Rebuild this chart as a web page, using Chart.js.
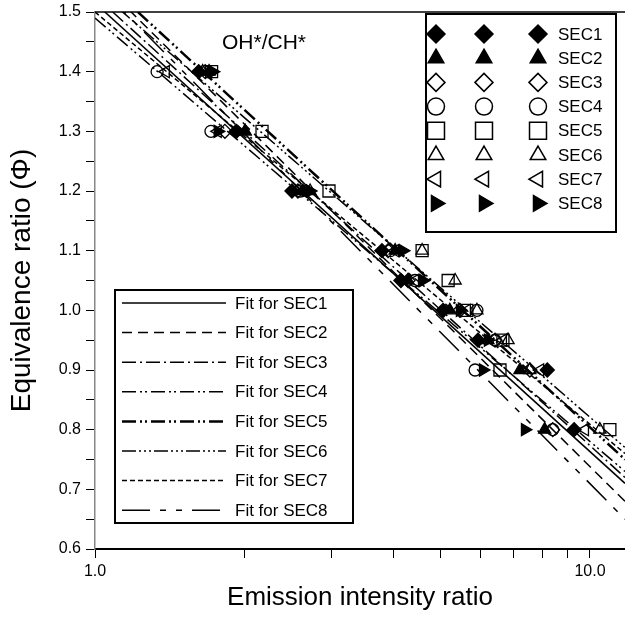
<!DOCTYPE html>
<html>
<head>
<meta charset="utf-8">
<script src="https://cdn.jsdelivr.net/npm/chart.js@4.4.0/dist/chart.umd.min.js"></script>
<style>
    body { margin: 0; background: #fff; }
    #wrap { width: 625px; height: 619px; }
</style>
</head>
<body>
<div id="wrap"><canvas id="chartOH" width="625" height="619"></canvas></div>
<script>
// equivalence ratio levels measured for every sector
const levels = [1.4, 1.3, 1.2, 1.1, 1.05, 1.0, 0.95, 0.9, 0.8];

// emission intensity ratio, one list per sector
const sec1 = [1.62, 1.93, 2.50, 3.80, 4.15, 5.05, 5.94, 8.20, 9.29];
const sec2 = [1.70, 2.01, 2.63, 4.04, 4.29, 5.21, 6.22, 7.22, 8.10];
const sec3 = [1.67, 1.83, 2.57, 3.91, 4.29, 5.46, 6.43, 7.56, 8.41];
const sec4 = [1.335, 1.715, 2.60, 3.95, 4.43, 5.91, 6.43, 5.86, 8.41];
const sec5 = [1.72, 2.175, 2.97, 4.58, 5.17, 5.64, 6.67, 6.58, 10.97];
const sec6 = [1.65, 2.01, 2.72, 4.58, 5.34, 5.91, 6.83, 7.56, 10.47];
const sec7 = [1.39, 1.77, 2.63, 4.04, 4.43, 5.64, 6.67, 7.93, 9.77];
const sec8 = [1.73, 1.77, 2.72, 4.19, 4.60, 5.46, 6.22, 6.08, 7.39];

const sectors = ['SEC1', 'SEC2', 'SEC3', 'SEC4', 'SEC5', 'SEC6', 'SEC7', 'SEC8'];
const sectorX = [sec1, sec2, sec3, sec4, sec5, sec6, sec7, sec8];

// fit lines: value at the left (x = 1.0) and at the right edge of the axis
const fitX = [1.0, 11.77];
const fitStartY = [1.515, 1.56, 1.527, 1.49, 1.566, 1.54, 1.50, 1.55];
const fitEndY = [0.71, 0.68, 0.72, 0.73, 0.75, 0.77, 0.76, 0.65];

const xTicks = [1, 2, 3, 4, 5, 6, 7, 8, 9, 10];
const xTickLabels = { 1: '1.0', 10: '10.0' };

const FONT = "'Liberation Sans', Arial, sans-serif";

// marker look per sector
const markers = [
    { style: 'rectRot', rot: 0, fill: true, r: 7 },
    { style: 'triangle', rot: 0, fill: true, r: 7 },
    { style: 'rectRot', rot: 0, fill: false, r: 7 },
    { style: 'circle', rot: 0, fill: false, r: 6 },
    { style: 'rect', rot: 0, fill: false, r: 8.5 },
    { style: 'triangle', rot: 0, fill: false, r: 7 },
    { style: 'triangle', rot: 270, fill: false, r: 7 },
    { style: 'triangle', rot: 90, fill: true, r: 7 }
];

const dashes = [
    [], [10, 6], [14, 4, 2, 4], [14, 4, 2, 3, 2, 4],
    [14, 4, 2, 3, 2, 4], [14, 3, 2, 3, 2, 3, 2, 3], [5, 3], [28, 10, 6, 10, 6, 10]
];
const widths = [1.5, 1.5, 1.5, 1.5, 2.5, 1.5, 1.5, 1.5];

let datasets = [];
for (let i = 0; i < sectors.length; i++) {
    datasets.push({
        type: 'line',
        label: 'Fit for ' + sectors[i],
        data: [{ x: fitX[0], y: fitStartY[i] }, { x: fitX[1], y: fitEndY[i] }],
        borderColor: '#000',
        borderWidth: widths[i],
        borderDash: dashes[i],
        pointRadius: 0,
        fill: false
    });
}
for (let i = 0; i < sectors.length; i++) {
    let m = markers[i];
    datasets.push({
        type: 'scatter',
        label: sectors[i],
        data: levels.map((y, j) => ({ x: sectorX[i][j], y: y })),
        pointStyle: m.style,
        rotation: m.rot,
        pointRadius: m.r,
        pointHoverRadius: m.r,
        pointBackgroundColor: m.fill ? '#000' : 'rgba(255,255,255,0)',
        pointBorderColor: '#000',
        pointBorderWidth: 1.3
    });
}

function drawMarker(ctx, m, x, y, r) {
    ctx.save();
    ctx.fillStyle = m.fill ? '#000' : '#fff';
    ctx.strokeStyle = '#000';
    ctx.lineWidth = 1.5;
    ctx.setLineDash([]);
    Chart.helpers.drawPoint(ctx, { pointStyle: m.style, rotation: m.rot, radius: r, borderWidth: 1.5 }, x, y);
    ctx.restore();
}

const legendsPlugin = {
    id: 'legends',
    afterDraw(chart) {
        const ctx = chart.ctx;
        const area = chart.chartArea;
        ctx.save();

        // top frame line
        ctx.strokeStyle = '#000';
        ctx.lineWidth = 1.5;
        ctx.beginPath();
        ctx.moveTo(area.left, area.top);
        ctx.lineTo(area.right, area.top);
        ctx.stroke();

        // title inside the plot
        ctx.fillStyle = '#000';
        ctx.font = '21px ' + FONT;
        ctx.textBaseline = 'middle';
        ctx.fillText('OH*/CH*', 222, 43);

        // symbol legend
        ctx.fillStyle = '#fff';
        ctx.fillRect(426, 14, 190, 218);
        ctx.lineWidth = 2;
        ctx.strokeRect(426, 14, 190, 218);
        ctx.font = '17px ' + FONT;
        for (let i = 0; i < sectors.length; i++) {
            let y = 34 + i * 24.2;
            let m = markers[i];
            let r = m.style === 'rect' ? 12 : (m.style === 'circle' ? 8.5 : 9);
            [436, 484, 538].forEach(x => drawMarker(ctx, m, x, y, r));
            ctx.fillStyle = '#000';
            ctx.fillText(sectors[i], 558, y + 1);
        }

        // fit line legend
        ctx.fillStyle = '#fff';
        ctx.fillRect(115, 290, 238, 233);
        ctx.strokeStyle = '#000';
        ctx.lineWidth = 2;
        ctx.strokeRect(115, 290, 238, 233);
        ctx.font = '17px ' + FONT;
        for (let i = 0; i < sectors.length; i++) {
            let y = 303 + i * 29.6;
            ctx.save();
            ctx.lineWidth = widths[i];
            ctx.setLineDash(dashes[i]);
            ctx.beginPath();
            ctx.moveTo(122, y);
            ctx.lineTo(226, y);
            ctx.stroke();
            ctx.restore();
            ctx.fillStyle = '#000';
            ctx.fillText('Fit for ' + sectors[i], 235, y + 1);
        }
        ctx.restore();
    }
};

new Chart(document.getElementById('chartOH'), {
    data: { datasets: datasets },
    options: {
        responsive: false,
        animation: false,
        events: [],
        layout: { autoPadding: false, padding: { top: 12, right: 0, left: 0, bottom: 0 } },
        plugins: { legend: { display: false }, tooltip: { enabled: false } },
        scales: {
            x: {
                type: 'logarithmic',
                min: 1,
                max: 11.77,
                afterBuildTicks: scale => { scale.ticks = xTicks.map(v => ({ value: v })); },
                afterFit: scale => {
                    scale.height = 70;
                    scale.paddingLeft = 0;
                    scale.paddingRight = 0;
                },
                ticks: {
                    autoSkip: false,
                    maxRotation: 0,
                    padding: 4,
                    color: '#000',
                    font: { family: FONT, size: 16 },
                    callback: v => xTickLabels[v] || ''
                },
                grid: { drawOnChartArea: false, drawTicks: true, tickLength: 9, color: '#000' },
                border: { color: '#000', width: 2 },
                title: {
                    display: true,
                    text: 'Emission intensity ratio',
                    color: '#000',
                    font: { family: FONT, size: 26 },
                    padding: { top: 0, bottom: 6 }
                }
            },
            y: {
                type: 'linear',
                min: 0.6,
                max: 1.5,
                afterFit: scale => {
                    scale.width = 95;
                    scale.paddingTop = 0;
                    scale.paddingBottom = 0;
                },
                ticks: {
                    stepSize: 0.05,
                    autoSkip: false,
                    padding: 5,
                    color: '#000',
                    font: { family: FONT, size: 16 },
                    callback: v => Math.abs(v * 10 - Math.round(v * 10)) < 1e-6 ? v.toFixed(1) : ''
                },
                grid: { drawOnChartArea: false, drawTicks: true, tickLength: 9, color: '#000' },
                border: { color: '#888', width: 1.5 },
                title: {
                    display: true,
                    text: 'Equivalence ratio (Φ)',
                    color: '#000',
                    font: { family: FONT, size: 28 },
                    padding: { top: 5, bottom: 2 }
                }
            }
        }
    },
    plugins: [legendsPlugin]
});
</script>
</body>
</html>
